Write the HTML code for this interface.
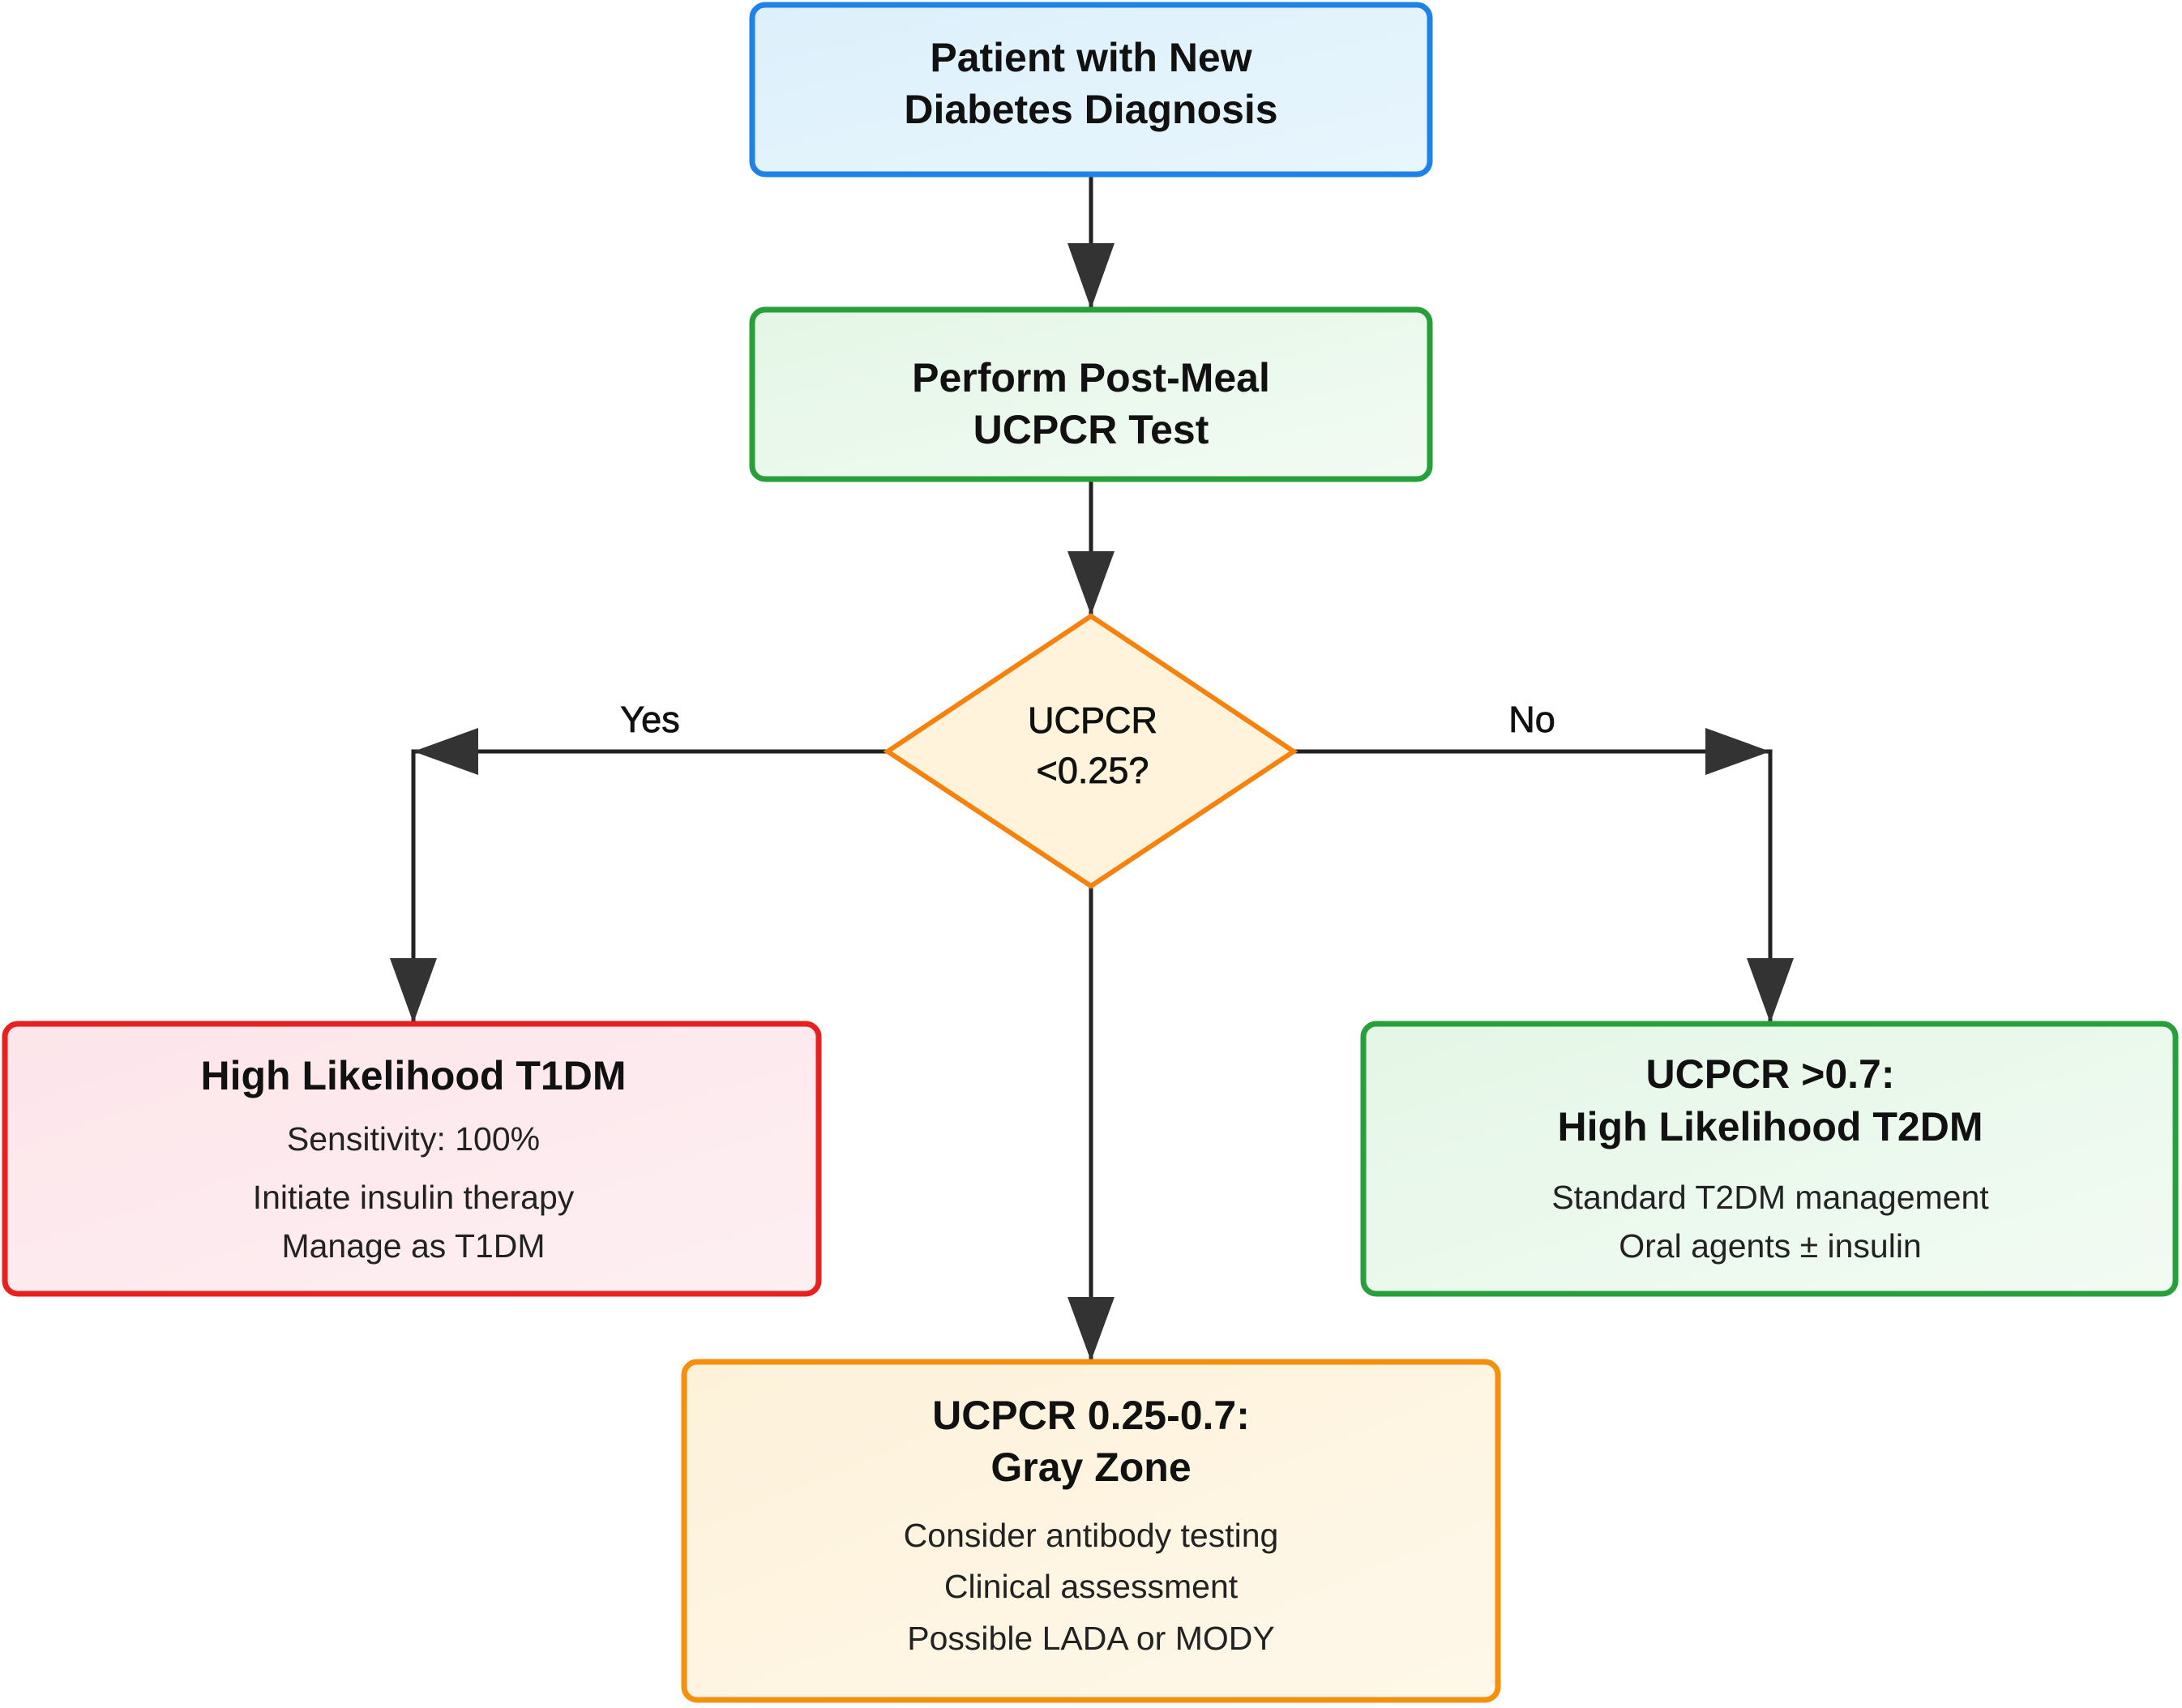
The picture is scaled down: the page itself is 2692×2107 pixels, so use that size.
<!DOCTYPE html>
<html><head><meta charset="utf-8"><style>
html,body{margin:0;padding:0;background:#fff;}
svg{display:block;}
.t{font-family:"Liberation Sans",sans-serif;font-weight:bold;font-size:50px;fill:#111;text-anchor:middle;}
.b{font-family:"Liberation Sans",sans-serif;font-size:41px;fill:#222;text-anchor:middle;}
.d{font-family:"Liberation Sans",sans-serif;font-size:45px;fill:#111;text-anchor:middle;stroke:#111;stroke-width:0.8;}
</style></head><body>
<svg width="2692" height="2107" viewBox="0 0 2692 2107" xmlns="http://www.w3.org/2000/svg">
<defs>
<linearGradient id="gb" x1="0" y1="0" x2="1" y2="1"><stop offset="0" stop-color="#dcf0fb"/><stop offset="1" stop-color="#e8f6fd"/></linearGradient>
<linearGradient id="gg" x1="0" y1="0" x2="1" y2="1"><stop offset="0" stop-color="#e4f6e6"/><stop offset="1" stop-color="#f2fbf3"/></linearGradient>
<linearGradient id="gr" x1="0" y1="0" x2="1" y2="1"><stop offset="0" stop-color="#fde5ea"/><stop offset="1" stop-color="#fdeff2"/></linearGradient>
<linearGradient id="go" x1="0" y1="0" x2="1" y2="1"><stop offset="0" stop-color="#fdf1d9"/><stop offset="1" stop-color="#fef8ea"/></linearGradient>
</defs>
<g stroke="#222" stroke-width="5" fill="none">
<line x1="1346" y1="216" x2="1346" y2="381"/>
<line x1="1346" y1="592" x2="1346" y2="759"/>
<polyline points="1094,927 510,927 510,1262"/>
<polyline points="1597,927 2184,927 2184,1262"/>
<line x1="1346" y1="1094" x2="1346" y2="1679"/>
</g>
<g fill="#333">
<polygon points="1317,300 1375,300 1346,381"/>
<polygon points="1317,680 1375,680 1346,759"/>
<polygon points="510,927 590,898 590,956"/>
<polygon points="2184,927 2104,898 2104,956"/>
<polygon points="481,1182 539,1182 510,1262"/>
<polygon points="2155,1182 2213,1182 2184,1262"/>
<polygon points="1317,1600 1375,1600 1346,1679"/>
</g>
<rect x="928" y="6" width="836" height="209" rx="16" fill="url(#gb)" stroke="#1e82e8" stroke-width="7"/>
<rect x="928" y="382" width="836" height="209" rx="16" fill="url(#gg)" stroke="#27a03a" stroke-width="7"/>
<polygon points="1346,760 1596,927 1346,1093 1095,927" fill="#fff3dc" stroke="#f5820d" stroke-width="6"/>
<rect x="6" y="1263" width="1004" height="333" rx="16" fill="url(#gr)" stroke="#e82020" stroke-width="7"/>
<rect x="1682" y="1263" width="1002" height="333" rx="16" fill="url(#gg)" stroke="#27a03a" stroke-width="7"/>
<rect x="844" y="1680" width="1004" height="417" rx="16" fill="url(#go)" stroke="#f5900f" stroke-width="7"/>
<text class="t" x="1346" y="88">Patient with New</text>
<text class="t" x="1346" y="152">Diabetes Diagnosis</text>
<text class="t" x="1346" y="483">Perform Post-Meal</text>
<text class="t" x="1346" y="547">UCPCR Test</text>
<text class="d" x="1348" y="904">UCPCR</text>
<text class="d" x="1348" y="966">&lt;0.25?</text>
<text class="d" x="802" y="903">Yes</text>
<text class="d" x="1890" y="903">No</text>
<text class="t" x="510" y="1344">High Likelihood T1DM</text>
<text class="b" x="510" y="1419">Sensitivity: 100%</text>
<text class="b" x="510" y="1491">Initiate insulin therapy</text>
<text class="b" x="510" y="1551">Manage as T1DM</text>
<text class="t" x="2184" y="1342">UCPCR &gt;0.7:</text>
<text class="t" x="2184" y="1407">High Likelihood T2DM</text>
<text class="b" x="2184" y="1491">Standard T2DM management</text>
<text class="b" x="2184" y="1551">Oral agents ± insulin</text>
<text class="t" x="1346" y="1763">UCPCR 0.25-0.7:</text>
<text class="t" x="1346" y="1827">Gray Zone</text>
<text class="b" x="1346" y="1908">Consider antibody testing</text>
<text class="b" x="1346" y="1971">Clinical assessment</text>
<text class="b" x="1346" y="2035">Possible LADA or MODY</text>
</svg>
</body></html>
